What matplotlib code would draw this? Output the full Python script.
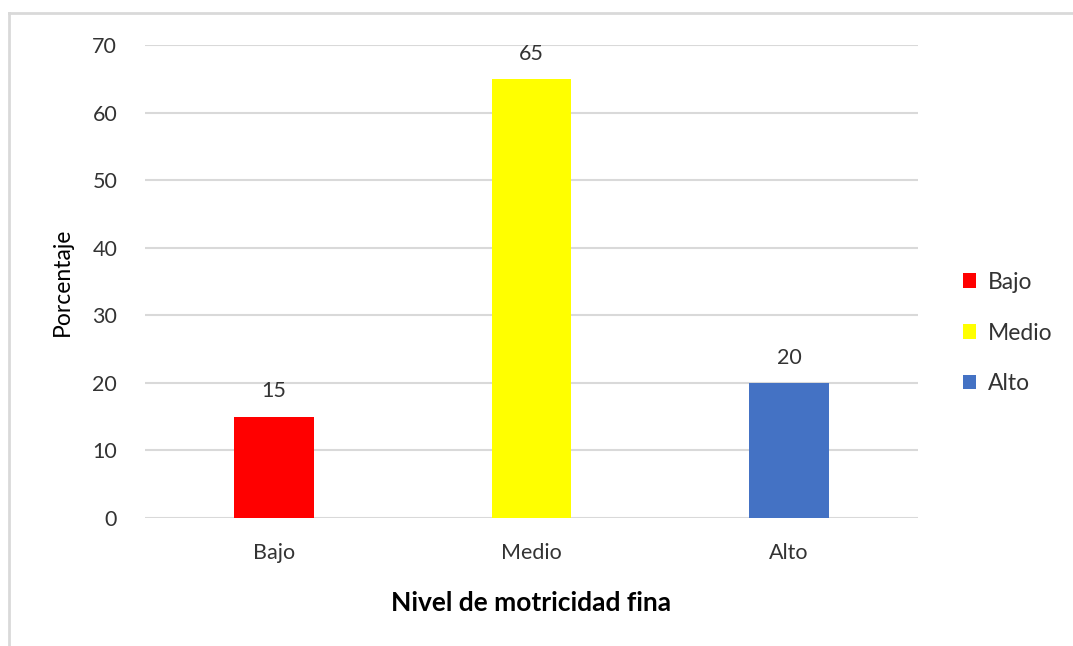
"""Nivel de motricidad fina - bar chart."""

import matplotlib
matplotlib.use("Agg")
import matplotlib.pyplot as plt
from matplotlib.lines import Line2D
from matplotlib.patches import Patch

categories = ["Bajo", "Medio", "Alto"]
values = [15, 65, 20]
colors = ["#FF0000", "#FFFF00", "#4472C4"]
yticks = [0, 10, 20, 30, 40, 50, 60, 70]

plt.rcParams["font.family"] = ["Lato", "DejaVu Sans"]

fig = plt.figure(figsize=(10.73, 6.46), dpi=100)
ax = fig.add_axes([145 / 1073, 128 / 646, 773 / 1073, 473 / 646])

x = range(len(categories))
ax.bar(x, values, width=0.31, color=colors, zorder=3)
for xi, v in zip(x, values):
    ax.annotate(str(v), (xi, v), xytext=(0, 11), textcoords="offset points",
                ha="center", va="bottom", fontsize=15.5, color="#333333")

ax.set_xlim(-0.5, 2.5)
ax.set_ylim(0, 70)
ax.set_yticks(yticks)
ax.set_xticks(list(x))
ax.set_xticklabels(categories)
ax.yaxis.grid(True, color="#D9D9D9", lw=1.5, zorder=0)
ax.tick_params(length=0, labelsize=15.5, labelcolor="#333333")
ax.tick_params(axis="y", pad=20)
ax.tick_params(axis="x", pad=18)
for s in ax.spines.values():
    s.set_visible(False)

ax.set_ylabel("Porcentaje", fontsize=16.5, color="black", labelpad=14)
ax.set_xlabel("Nivel de motricidad fina", fontsize=19, fontweight="bold", labelpad=20)

handles = [Patch(facecolor=c, edgecolor="none") for c in colors]
fig.legend(handles, categories, loc="center left", bbox_to_anchor=(942 / 1073, (646 - 333) / 646),
           frameon=False, fontsize=16.5, handlelength=0.6, handleheight=0.6,
           handletextpad=0.5, labelspacing=1.3, labelcolor="#333333")

# chart area frame (left and top edges)
fig.add_artist(Line2D([9 / 1073, 9 / 1073], [0, 1 - 13 / 646], color="#D9D9D9", lw=2))
fig.add_artist(Line2D([9 / 1073, 1], [1 - 13 / 646, 1 - 13 / 646], color="#D9D9D9", lw=2))

fig.savefig("out.png", dpi=100)
